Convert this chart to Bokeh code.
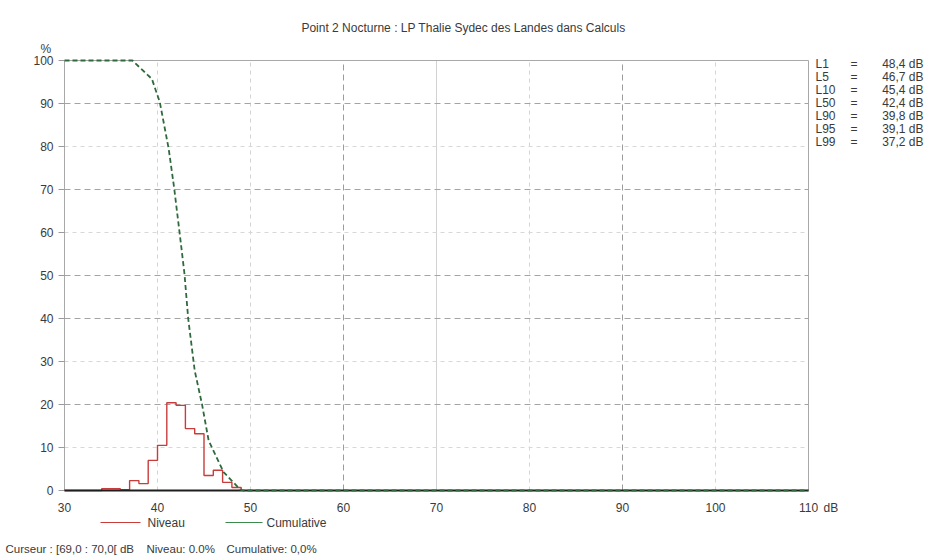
from bokeh.plotting import figure
from bokeh.core.properties import value
from bokeh.embed import file_html
from bokeh.resources import INLINE

# Niveau histogram: left edge of each 1 dB class and its share of time (%)
niveau_db = [30, 31, 32, 33, 34, 35, 36, 37, 38, 39, 40, 41, 42, 43, 44, 45, 46, 47, 48, 49]
niveau_pct = [0.0, 0.0, 0.0, 0.0, 0.4, 0.4, 0.2, 2.3, 1.6, 7.0, 10.5, 20.4, 19.8, 14.4, 13.2, 3.5, 4.7, 1.9, 0.7, 0.0]

# Cumulative distribution (% of time the level is exceeded)
cum_db = [30.0, 35.0, 37.3, 39.4, 40.25, 41.2, 41.8, 42.5, 42.9, 43.3, 44.0, 44.8, 45.5, 47.1, 48.9, 49.2, 110.0]
cum_pct = [100.0, 100.0, 100.0, 95.7, 90.3, 79.5, 70.2, 57.7, 50.4, 40.0, 27.9, 19.9, 11.6, 4.3, 0.2, 0.0, 0.0]

# Statistical indices
stat_names = ["L1", "L5", "L10", "L50", "L90", "L95", "L99"]
stat_values = ["48,4 dB", "46,7 dB", "45,4 dB", "42,4 dB", "39,8 dB", "39,1 dB", "37,2 dB"]

x_ticks = [30, 40, 50, 60, 70, 80, 90, 100, 110]
y_ticks = [0, 10, 20, 30, 40, 50, 60, 70, 80, 90, 100]

title_text = "Point 2 Nocturne : LP Thalie Sydec des Landes dans Calculs"
cursor_text = "Curseur : [69,0 : 70,0[ dB"
cursor_niveau = "Niveau: 0.0%"
cursor_cum = "Cumulative: 0,0%"

FONT = "Liberation Sans"
TXT = "#3a3a3a"
RED = "#c83c3c"
GREEN = "#2f6a3c"
W, H = 925, 560

# plotting area inside the canvas (pixels) and its value range
L, R, T, B = 64, 808, 60, 490
X0, X1, Y0, Y1 = 30, 110, 0, 100


def dx(px):
    return X0 + (px - L) * (X1 - X0) / (R - L)


def dy(py):
    return Y0 + (B - py) * (Y1 - Y0) / (B - T)


# the frame spans the whole canvas so that titles, legend and side texts are not clipped
p = figure(width=W, height=H, output_backend="svg", toolbar_location=None,
           x_range=(dx(0), dx(W)), y_range=(dy(H), dy(0)),
           min_border=0, min_border_left=0, min_border_right=0,
           min_border_top=0, min_border_bottom=0)
p.axis.visible = False
p.grid.visible = False
p.outline_line_color = None
p.background_fill_color = "white"
p.border_fill_color = "white"

# grid lines: darker dashed, faint dashed, and one light solid
strong_x = [60, 90]
faint_x = [40, 50, 80, 100]
solid_x = [70]
strong_y = [20, 40, 50, 70, 90]
faint_y = [10, 30, 60, 80]
p.segment(x0=strong_x, y0=[Y0] * len(strong_x), x1=strong_x, y1=[Y1] * len(strong_x),
          line_color="#9c9c9c", line_dash="6 4", line_width=1)
p.segment(x0=faint_x, y0=[Y0] * len(faint_x), x1=faint_x, y1=[Y1] * len(faint_x),
          line_color="#d4d4d4", line_dash="4 4", line_width=1)
p.segment(x0=solid_x, y0=[Y0] * len(solid_x), x1=solid_x, y1=[Y1] * len(solid_x),
          line_color="#d2d2d2", line_width=1)
p.segment(x0=[X0] * len(strong_y), y0=strong_y, x1=[X1] * len(strong_y), y1=strong_y,
          line_color="#a4a4a4", line_dash="6 4", line_width=1)
p.segment(x0=[X0] * len(faint_y), y0=faint_y, x1=[X1] * len(faint_y), y1=faint_y,
          line_color="#d8d8d8", line_dash="4 4", line_width=1)

# frame: light border on left, top and right
p.line(x=[X0, X0, X1, X1], y=[Y0, Y1, Y1, Y0], line_color="#a8a8a8", line_width=1)

# y tick marks
p.segment(x0=[dx(L - 6)] * len(y_ticks), y0=y_ticks, x1=[X0] * len(y_ticks), y1=y_ticks,
          line_color="#9a9a9a", line_width=1)

# data
p.step(niveau_db, niveau_pct, mode="after", line_color=RED, line_width=1.4)
# bottom axis line
p.line(x=[X0, X1], y=[Y0, Y0], line_color="#1e1e1e", line_width=2)
p.line(cum_db, cum_pct, line_color=GREEN, line_width=1.8, line_dash="5 3")

# tick labels
p.text(x=x_ticks, y=[dy(507)] * len(x_ticks), text=[str(t) for t in x_ticks],
       text_font=value(FONT), text_font_size=value("12px"), text_color=TXT,
       text_align="center", text_baseline="middle")
p.text(x=[dx(53)] * len(y_ticks), y=y_ticks, text=[str(t) for t in y_ticks],
       text_font=value(FONT), text_font_size=value("12px"), text_color=TXT,
       text_align="right", text_baseline="middle")


def add_text(px, py, text, align="left", size="12px"):
    p.text(x=[dx(px)], y=[dy(py)], text=[text], text_font=value(FONT),
           text_font_size=value(size), text_color=TXT, text_align=align,
           text_baseline="middle")


add_text(463, 27, title_text, align="center")
add_text(40, 48, "%")
add_text(823, 507, "dB")

# cursor read-out line
add_text(5, 548, cursor_text, size="11.5px")
add_text(146, 548, cursor_niveau, size="11.5px")
add_text(226, 548, cursor_cum, size="11.5px")

# statistics block on the right
for i, (name, val) in enumerate(zip(stat_names, stat_values)):
    yy = 63 + i * 13
    add_text(815, yy, name)
    add_text(850, yy, "=")
    add_text(923, yy, val, align="right")

# legend: line swatches with their labels
p.segment(x0=[dx(100)], y0=[dy(522)], x1=[dx(140)], y1=[dy(522)], line_color=RED, line_width=1.2)
add_text(147, 522, "Niveau")
p.segment(x0=[dx(225)], y0=[dy(522)], x1=[dx(262)], y1=[dy(522)], line_color="#3c8a4c", line_width=1.2)
add_text(266, 522, "Cumulative")

open("out.html", "w").write(file_html(p, INLINE))
